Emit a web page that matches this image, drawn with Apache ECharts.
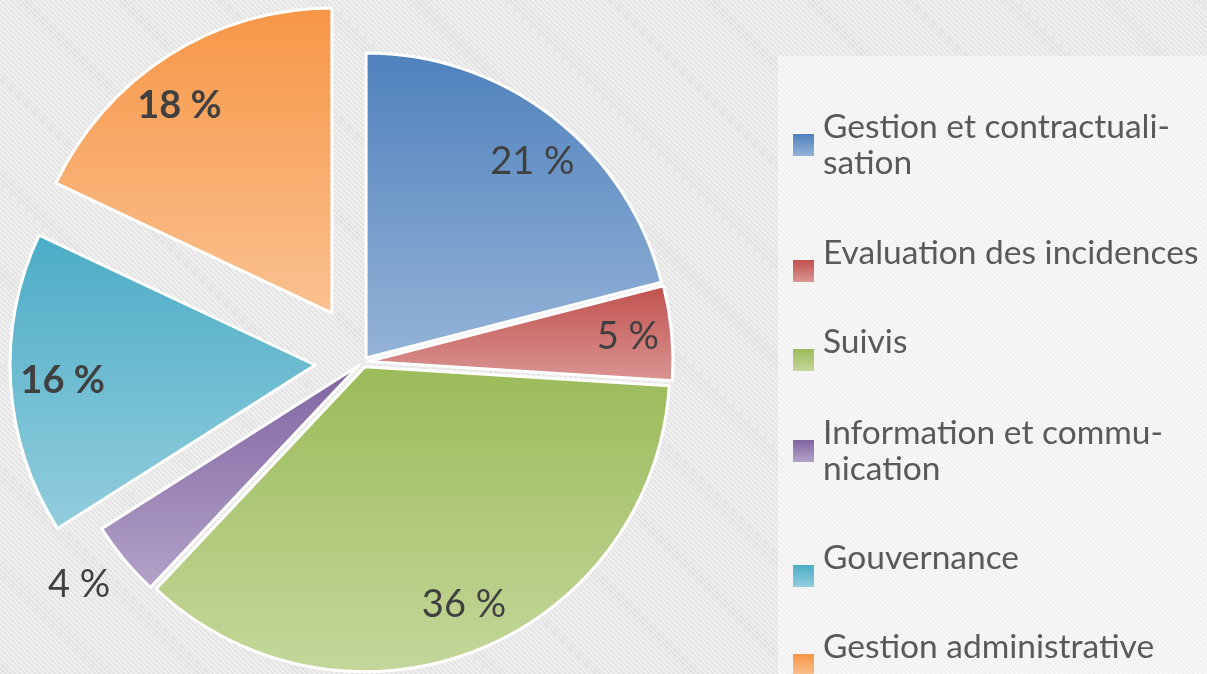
<!DOCTYPE html>
<html>
<head>
<meta charset="utf-8">
<script src="https://cdn.jsdelivr.net/npm/echarts@6/dist/echarts.min.js"></script>
<style>
  html, body { margin: 0; padding: 0; }
  body {
    width: 1207px; height: 674px; overflow: hidden;
    background: repeating-linear-gradient(45deg, #e2e2e2 0px, #e2e2e2 1.5px, #efefef 1.5px, #efefef 3.5px);
  }
  #chart { width: 1207px; height: 674px; }
</style>
</head>
<body>
<div id="chart"></div>
<script>
// ---- data ----
const categories = ['Gestion et contractualisation', 'Evaluation des incidences', 'Suivis', 'Information et communication', 'Gouvernance', 'Gestion administrative'];
const values = [21, 5, 36, 4, 16, 18];
const legendLabels = ['Gestion et contractuali-\nsation', 'Evaluation des incidences', 'Suivis', 'Information et commu-\nnication', 'Gouvernance', 'Gestion administrative'];

// ---- style ----
const topColors = ['#4f81bd', '#c0504d', '#9bbb59', '#8064a2', '#4bacc6', '#f79646'];
const bottomColors = ['#95b3d7', '#da9694', '#c4d79b', '#b3a2c7', '#93cddd', '#fac191'];
const explode = [5, 5, 5, 5, 48, 58];
const labelDist = [257, 261, 258, 356, 253, 257];
const labelTurn = [2.5, 0, -1, 1.5, 0, -4];   // degrees, clockwise nudge of label placement
const labelBold = [false, false, false, false, true, true];
const legendTops = [106, 232, 321, 412, 537, 626];
const CX = 363, CY = 362, R = 305;
const FONT = 'Lato, "Open Sans", sans-serif';

function grad(i) {
  return new echarts.graphic.LinearGradient(0, 0, 0, 1, [
    { offset: 0, color: topColors[i] },
    { offset: 1, color: bottomColors[i] }
  ]);
}

const total = values.reduce((a, b) => a + b, 0);
const series = [];
let cum = 0;
values.forEach((v, i) => {
  const mid = (cum + v / 2) / total * Math.PI * 2;
  cum += v;
  const center = [CX + explode[i] * Math.sin(mid), CY - explode[i] * Math.cos(mid)];
  // visible slice
  series.push({
    type: 'pie',
    center: center,
    radius: [0, R],
    startAngle: 90,
    clockwise: true,
    silent: true,
    animation: false,
    avoidLabelOverlap: false,
    label: { show: false },
    labelLine: { show: false },
    emphasis: { disabled: true },
    data: values.map((val, j) => ({
      name: categories[j],
      value: val,
      itemStyle: j === i
        ? { color: grad(j), borderColor: '#ffffff', borderWidth: 3 }
        : { color: 'rgba(0,0,0,0)', borderWidth: 0 }
    }))
  });
  // label band
  const m = labelDist[i] - 3;
  series.push({
    type: 'pie',
    center: center,
    radius: [m - 20, m + 20],
    startAngle: 90 - labelTurn[i],
    clockwise: true,
    silent: true,
    animation: false,
    avoidLabelOverlap: false,
    labelLine: { show: false },
    emphasis: { disabled: true },
    data: values.map((val, j) => ({
      name: categories[j],
      value: val,
      itemStyle: { color: 'rgba(0,0,0,0)', borderWidth: 0 },
      label: {
        show: j === i,
        position: 'inside',
        formatter: '{c} %',
        color: '#404040',
        fontFamily: FONT,
        fontSize: 38,
        fontWeight: labelBold[j] ? 'bold' : 'normal',
        textBorderWidth: 0
      }
    }))
  });
});

const legends = categories.map((name, i) => {
  const twoLines = legendLabels[i].indexOf('\n') >= 0;
  return {
    orient: 'vertical',
    left: 793,
    top: legendTops[i],
    padding: 0,
    itemWidth: 21,
    itemHeight: 22,
    icon: 'rect',
    selectedMode: false,
    data: [{ name: name, itemStyle: { color: grad(i), borderWidth: 0, opacity: 1 } }],
    formatter: () => twoLines ? legendLabels[i] : legendLabels[i] + '\n ',
    textStyle: {
      color: '#595959',
      fontFamily: FONT,
      fontSize: 33.5,
      lineHeight: 36,
      padding: [0, 0, 6, 4]
    }
  };
});

const chart = echarts.init(document.getElementById('chart'), null, { renderer: 'canvas' });
chart.setOption({
  backgroundColor: 'transparent',
  animation: false,
  graphic: [{
    type: 'rect',
    z: -10,
    shape: { x: 778, y: 56, width: 440, height: 640 },
    style: { fill: 'rgba(255,255,255,0.5)' },
    silent: true
  }],
  legend: legends,
  series: series
});
</script>
</body>
</html>
